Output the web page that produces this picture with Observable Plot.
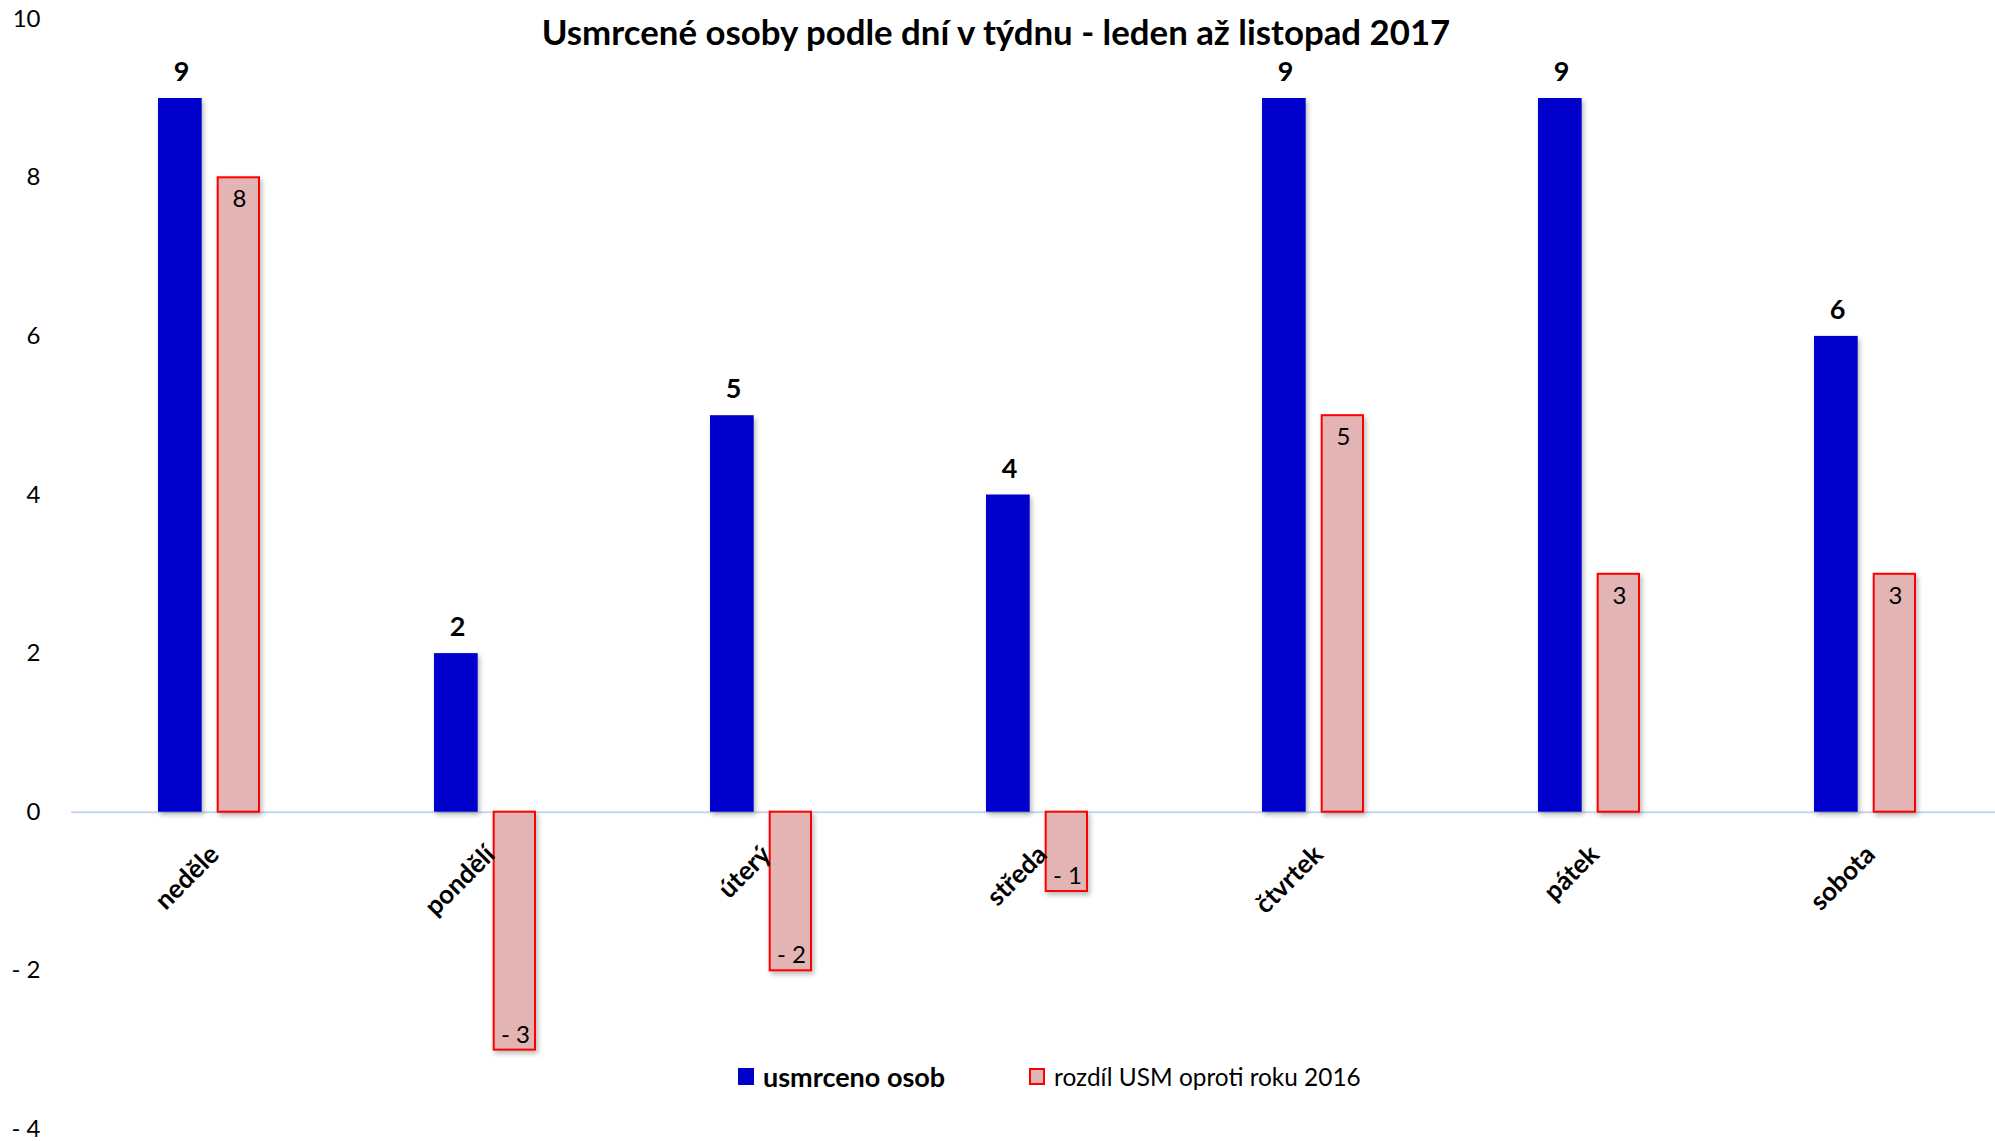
<!DOCTYPE html>
<html>
<head>
<meta charset="utf-8">
<script src="https://cdn.jsdelivr.net/npm/d3@7"></script>
<script src="https://cdn.jsdelivr.net/npm/@observablehq/plot@0.6"></script>
<style>
  html, body { margin: 0; padding: 0; background: #fff; }
  #wrap { position: relative; width: 1995px; height: 1141px; overflow: hidden; font-family: Lato, "Open Sans", sans-serif; }
  #title { position: absolute; left: 0; width: 1992px; top: 11px; text-align: center; font-weight: 700; font-size: 34.8px; color: #000; line-height: 42px; }
  #legend { position: absolute; top: 1061px; left: 738px; height: 30px; display: flex; align-items: center; font-size: 27px; color: #000; }
  .sw { display: inline-block; width: 16px; height: 17px; box-sizing: border-box; margin-right: 9px; }
  .item { display: flex; align-items: center; }
  g[aria-label="bar"] { filter: drop-shadow(2px 3px 2.5px rgba(0,0,0,0.28)); }
</style>
</head>
<body>
<div id="wrap">
  <div id="chart"></div>
  <div id="title">Usmrcené osoby podle dní v týdnu - leden až listopad 2017</div>
  <div id="legend">
    <div class="item" style="font-weight:700"><span class="sw" style="background:#0000CC"></span>usmrceno osob</div>
    <div class="item" style="margin-left:84px;font-size:24.4px"><span class="sw" style="background:#E3B4B4;border:2px solid #FF0000"></span>rozdíl USM oproti roku 2016</div>
  </div>
</div>
<script>
const days = ["neděle", "pondělí", "úterý", "středa", "čtvrtek", "pátek", "sobota"];
const killed = [9, 2, 5, 4, 9, 9, 6];
const diff2016 = [8, -3, -2, -1, 5, 3, 3];
const yTicks = [-4, -2, 0, 2, 4, 6, 8, 10];

const rows = days.map((d, i) => ({day: d, killed: killed[i], diff: diff2016[i]}));
const fmt = v => v < 0 ? "- " + (-v) : String(v);
const font = "Lato, 'Open Sans', sans-serif";

const plot = Plot.plot({
  width: 1995,
  height: 1141,
  marginLeft: 71,
  marginRight: 0,
  marginTop: 0,
  marginBottom: 0,
  style: {fontFamily: font, background: "transparent", overflow: "visible"},
  x: {domain: days, range: [71, 2003], padding: 0, axis: null},
  y: {domain: [-4, 10], range: [1128.9, 18.7], axis: null},
  marks: [
    Plot.ruleY([0], {stroke: "#C6D9F1", strokeWidth: 2}),
    Plot.barY(rows, {x: "day", y: "killed", fill: "#0000CC", insetLeft: 87, insetRight: 145.3}),
    Plot.barY(rows, {x: "day", y: "diff", fill: "#E3B4B4", stroke: "#FF0000", strokeWidth: 2, insetLeft: 146.7, insetRight: 88}),
    Plot.text(rows, {x: "day", y: "killed", text: d => fmt(d.killed), dx: -28, dy: -26, fontSize: 27, fontWeight: 700, fill: "#000"}),
    Plot.text(rows.filter(d => d.diff >= 0), {x: "day", y: "diff", text: d => fmt(d.diff), dx: 30, dy: 22, fontSize: 24, fill: "#000"}),
    Plot.text(rows.filter(d => d.diff < 0), {x: "day", y: "diff", text: d => fmt(d.diff), dx: 30, dy: -15, fontSize: 24, fill: "#000"}),
    Plot.text(rows, {x: "day", y: d => 0, text: "day", rotate: -45, textAnchor: "end", lineAnchor: "bottom", dx: 11, dy: 44, fontSize: 26, fontWeight: 700, fill: "#000"}),
    Plot.axisY(yTicks, {anchor: "left", tickSize: 0, tickPadding: 31, tickFormat: fmt, fontSize: 24, fill: "#000"})
  ]
});
document.getElementById("chart").appendChild(plot);
</script>
</body>
</html>
